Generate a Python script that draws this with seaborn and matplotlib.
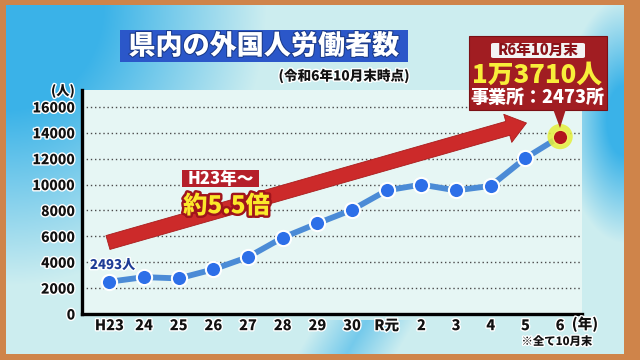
import numpy as np
import pandas as pd
import matplotlib
matplotlib.use('Agg')
import matplotlib.pyplot as plt
import matplotlib.patches as mpatches
import matplotlib.patheffects as pe
import seaborn as sns

# ---- data ----
years = ['H23', '24', '25', '26', '27', '28', '29', '30', 'R元', '2', '3', '4', '5', '6']
workers = [2493, 2850, 2750, 3450, 4400, 5900, 7000, 8050, 9550, 10000, 9550, 9900, 12050, 13710]
y_ticks = [0, 2000, 4000, 6000, 8000, 10000, 12000, 14000, 16000]
title = '県内の外国人労働者数'
subtitle = '(令和6年10月末時点)'
callout_head = 'R6年10月末'
callout_main = '1万3710人'
callout_sub = '事業所：2473所'
growth_top = 'H23年～'
growth_main = '約5.5倍'
first_label = '2493人'

sns.set_theme(style='white')
plt.rcParams['font.family'] = ['Noto Sans CJK JP', 'DejaVu Sans']
plt.rcParams['font.weight'] = 'heavy'

W, H = 640, 360
fig = plt.figure(figsize=(6.4, 3.6), dpi=100)
fig.patch.set_facecolor('#cf844a')


def px(x, y):
    return x / W, 1 - y / H


# ---- background panel gradient ----
bg = fig.add_axes([6 / W, 6 / H, 618 / W, 349 / H], zorder=-10)
bh, bw = 349, 618
yy, xx = np.mgrid[0:bh, 0:bw]
w1 = np.clip(1 - np.sqrt((xx / (0.42 * bw)) ** 2 + (yy / (0.8 * bh)) ** 2), 0, 1)
w2 = np.clip(1 - np.sqrt(((xx - bw) / (0.10 * bw)) ** 2 + ((yy - 0.33 * bh) / (0.35 * bh)) ** 2), 0, 1)
w3 = np.clip(1 - np.abs((xx - 0.55 * bw) + (yy - bh) * 0.6) / (0.08 * bw), 0, 1) * (yy > 0.9 * bh)
w = np.clip(w1 * 1.6 + w2 * 1.4 + w3 * 0.6, 0, 1)[..., None]
light = np.array([0.80, 0.93, 0.94])
blue = np.array([0.23, 0.70, 0.91])
img = light * (1 - w) + blue * w
bg.imshow(img, aspect='auto', interpolation='bilinear')
bg.set_axis_off()

# ---- main axes ----
ax = fig.add_axes([81.6 / W, 46 / H, 500 / W, 224 / H])
ax.set_facecolor('#e6f6f4')
df = pd.DataFrame({'idx': np.arange(len(years)), 'workers': workers})

ax.yaxis.grid(True, linestyle=(0, (1, 2)), color='#4a4a4a', lw=1)
ax.set_axisbelow(True)

sns.lineplot(data=df, x='idx', y='workers', ax=ax, color='#4b8bd6', lw=4.2,
             zorder=3, legend=False)
sns.scatterplot(data=df.iloc[:-1], x='idx', y='workers', ax=ax, s=120,
                color='#2d6fe8', edgecolor='white', linewidth=1.5, zorder=4,
                legend=False)
last = df.iloc[[-1]]
sns.scatterplot(data=last, x='idx', y='workers', ax=ax, s=330,
                color='#e4ee3a', edgecolor='none', alpha=0.85, zorder=4, legend=False)
sns.scatterplot(data=last, x='idx', y='workers', ax=ax, s=110,
                color='#b3141e', edgecolor='#f0f060', linewidth=1.0, zorder=5, legend=False)

ax.set_xlim(-0.80, 13.62)
ax.set_ylim(0, 17310)
ax.set_xticks(range(len(years)))
ax.set_xticklabels(years)
ax.set_yticks(y_ticks)
ax.set_yticklabels([str(v) for v in y_ticks])
ax.set_xlabel('')
ax.set_ylabel('')
for s in ['top', 'right']:
    ax.spines[s].set_visible(False)
for s in ['left', 'bottom']:
    ax.spines[s].set_color('black')
    ax.spines[s].set_linewidth(2.4)
ax.tick_params(axis='x', direction='in', length=5, width=1.6, color='black',
               pad=3, labelsize=10.5, labelcolor='#111111')
ax.tick_params(axis='y', length=0, pad=4.5, labelsize=10, labelcolor='#111111')
halo = [pe.withStroke(linewidth=2, foreground='white')]
for lab in ax.get_xticklabels() + ax.get_yticklabels():
    lab.set_fontweight('heavy')
    lab.set_path_effects(halo)

# ---- growth arrow ----
arrow = mpatches.FancyArrowPatch(
    (-0.04, 5525), (12.03, 14760),
    arrowstyle='simple,head_length=14,head_width=21,tail_width=10.4',
    mutation_scale=1, color='#cc2a2a', ec='#a81c1c', lw=0.6,
    shrinkA=0, shrinkB=0, zorder=2)
ax.add_patch(arrow)

# ---- texts ----
fig.text(*px(63, 91), '(人)', ha='center', va='center', fontsize=9.5, color='#111111',
         path_effects=halo)
fig.text(*px(585, 324), '(年)', ha='center', va='center', fontsize=10.5, color='#111111',
         path_effects=halo)
fig.text(*px(557, 341), '※全て10月末', ha='center', va='center', fontsize=8.2, color='#111111',
         path_effects=halo)

# title box
fig.patches.append(mpatches.Rectangle(px(120, 62), 288 / W, 32 / H, transform=fig.transFigure,
                                      facecolor='#2b57c9', edgecolor='none', zorder=1))
fig.text(*px(264, 46), title, ha='center', va='center', fontsize=19.5, color='white',
         zorder=2, path_effects=[pe.withStroke(linewidth=1.5, foreground='#1a3a8a')])
fig.text(*px(344, 76), subtitle, ha='center', va='center', fontsize=9.8, color='#111111',
         path_effects=halo)

# growth label
fig.patches.append(mpatches.Rectangle(px(182, 187), 77 / W, 17 / H, transform=fig.transFigure,
                                      facecolor='#b5202a', edgecolor='none', zorder=3))
fig.text(*px(220.5, 178.5), growth_top, ha='center', va='center', fontsize=12, color='white',
         zorder=4)
fig.text(*px(226.5, 206), growth_main, ha='center', va='center', fontsize=17.5, color='#fbe92a',
         zorder=4, path_effects=[pe.withStroke(linewidth=3.5, foreground='#a0141c')])

fig.text(*px(112.5, 265), first_label, ha='center', va='center', fontsize=9.5, color='#1e3c96',
         path_effects=[pe.withStroke(linewidth=2, foreground='white')])

# callout box
fig.patches.append(mpatches.Rectangle(px(468.6, 110), 138.4 / W, 74 / H, transform=fig.transFigure,
                                      facecolor='#a11d22', edgecolor='#7a1015', lw=0.8, zorder=5))
tri = mpatches.Polygon([px(553, 109), px(566, 109), px(560, 128)], closed=True,
                       transform=fig.transFigure, facecolor='#a11d22', edgecolor='none', zorder=5)
fig.patches.append(tri)
fig.patches.append(mpatches.FancyBboxPatch(px(491, 58), 94 / W, 15 / H, transform=fig.transFigure,
                                           boxstyle='round,pad=0,rounding_size=0.004',
                                           facecolor='#f4f4f4', edgecolor='none', zorder=6))
fig.text(*px(538, 50.5), callout_head, ha='center', va='center', fontsize=10.5, color='#8a1218',
         zorder=7)
fig.text(*px(536.5, 75), callout_main, ha='center', va='center', fontsize=18.5, color='#f8ee3a',
         zorder=7)
fig.text(*px(537, 97.5), callout_sub, ha='center', va='center', fontsize=13, color='white',
         zorder=7)

fig.savefig('out.png', dpi=100, facecolor=fig.get_facecolor())
